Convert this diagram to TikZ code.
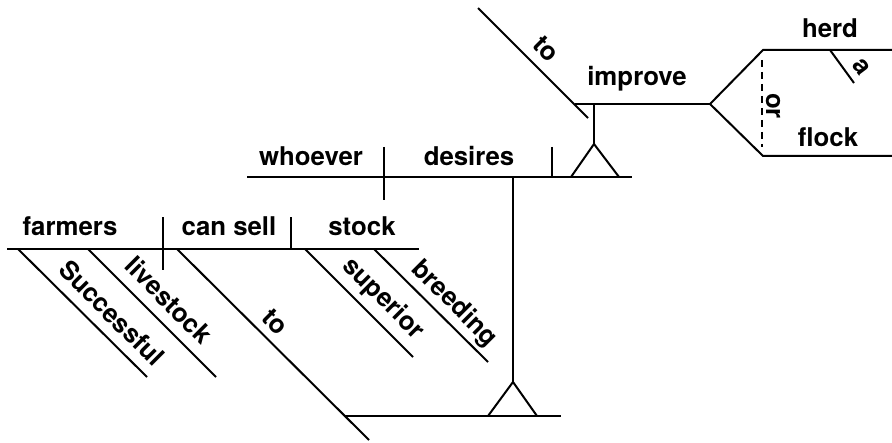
\documentclass[tikz,border=0pt]{standalone}
\usepackage{fontspec}
\setmainfont{TeX Gyre Heros}
\begin{document}
\begin{tikzpicture}[x=0.5pt,y=-0.5pt,
  ln/.style={line width=1pt},
  dsh/.style={line width=1pt,dash pattern=on 3.5pt off 2.5pt},
  wd/.style={inner sep=0pt,font=\fontsize{12.9}{15}\selectfont\bfseries},
  hw/.style={wd,anchor=base},
  dg/.style={wd,anchor=center,rotate=-45}]
\useasboundingbox (0,0) rectangle (892,443);
% ---- bottom main clause line
\coordinate (mA) at (7,249);
\coordinate (mB) at (419,249);
\coordinate (dv1t) at (163,217);
\coordinate (dv1b) at (163,270);
\coordinate (dv2t) at (291,217);
\coordinate (dv2b) at (291,249);
\draw[ln] (mA) -- (mB);
\draw[ln] (dv1t) -- (dv1b);
\draw[ln] (dv2t) -- (dv2b);
\node[hw] (farmers) at (70,235) {farmers};
\node[hw] (cansell) at (229,235) {can sell};
\node[hw] (stock) at (362,235) {stock};
% modifiers
\coordinate (sA) at (18,249);  \coordinate (sB) at (147,377);
\coordinate (lA) at (88,249);  \coordinate (lB) at (216,377);
\coordinate (tA) at (177,249); \coordinate (tB) at (369,440);
\coordinate (uA) at (305,249); \coordinate (uB) at (413,357);
\coordinate (bA) at (374,249); \coordinate (bB) at (488,362);
\draw[ln] (sA) -- (sB);
\draw[ln] (lA) -- (lB);
\draw[ln] (tA) -- (tB);
\draw[ln] (uA) -- (uB);
\draw[ln] (bA) -- (bB);
\node[dg] (successful) at (112,313) {Successful};
\node[dg] (livestock) at (169,300) {livestock};
\node[dg] (to1) at (275,322) {to};
\node[dg] (superior) at (383,299) {superior};
\node[dg] (breeding) at (454,304) {breeding};
% object of preposition: clause on pedestal
\coordinate (oA) at (344,416);
\coordinate (oB) at (561,416);
\draw[ln] (oA) -- (oB);
\coordinate (p1top) at (513,177);
\coordinate (p1apex) at (513,382);
\coordinate (p1L) at (488,416);
\coordinate (p1R) at (537,416);
\draw[ln] (p1top) -- (p1apex);
\draw[ln] (p1L) -- (p1apex) -- (p1R);
% ---- upper clause line
\coordinate (cA) at (247,177);
\coordinate (cB) at (632,177);
\coordinate (dv3t) at (384,147);
\coordinate (dv3b) at (384,200);
\coordinate (dv4t) at (552,147);
\coordinate (dv4b) at (552,177);
\draw[ln] (cA) -- (cB);
\draw[ln] (dv3t) -- (dv3b);
\draw[ln] (dv4t) -- (dv4b);
\node[hw] (whoever) at (311,166) {whoever};
\node[hw] (desires) at (469,166) {desires};
% pedestal for infinitive
\coordinate (p2L) at (571,177);
\coordinate (p2apex) at (594,144);
\coordinate (p2R) at (619,177);
\coordinate (p2top) at (594,104);
\draw[ln] (p2L) -- (p2apex) -- (p2R);
\draw[ln] (p2apex) -- (p2top);
% infinitive line
\coordinate (iA) at (575,104);
\coordinate (fork) at (710,104);
\draw[ln] (iA) -- (fork);
\coordinate (toA) at (478,8);
\coordinate (toB) at (588,118);
\draw[ln] (toA) -- (toB);
\node[dg] (to2) at (546,49) {to};
\node[hw] (improve) at (637,86) {improve};
% compound object
\coordinate (hA) at (763,50);  \coordinate (hB) at (892,50);
\coordinate (fA) at (763,156); \coordinate (fB) at (892,156);
\draw[ln] (fork) -- (hA) -- (hB);
\draw[ln] (fork) -- (fA) -- (fB);
\coordinate (orA) at (762,60);
\coordinate (orB) at (762,147);
\draw[dsh] (orA) -- (orB);
\node[wd,rotate=-90] (or) at (773,106) {or};
\node[hw] (herd) at (830,38) {herd};
\node[hw] (flock) at (828,147) {flock};
\coordinate (aA) at (830,50);
\coordinate (aB) at (854,83);
\draw[ln] (aA) -- (aB);
\node[wd,rotate=-53] (a) at (861,67) {a};
\end{tikzpicture}
\end{document}
